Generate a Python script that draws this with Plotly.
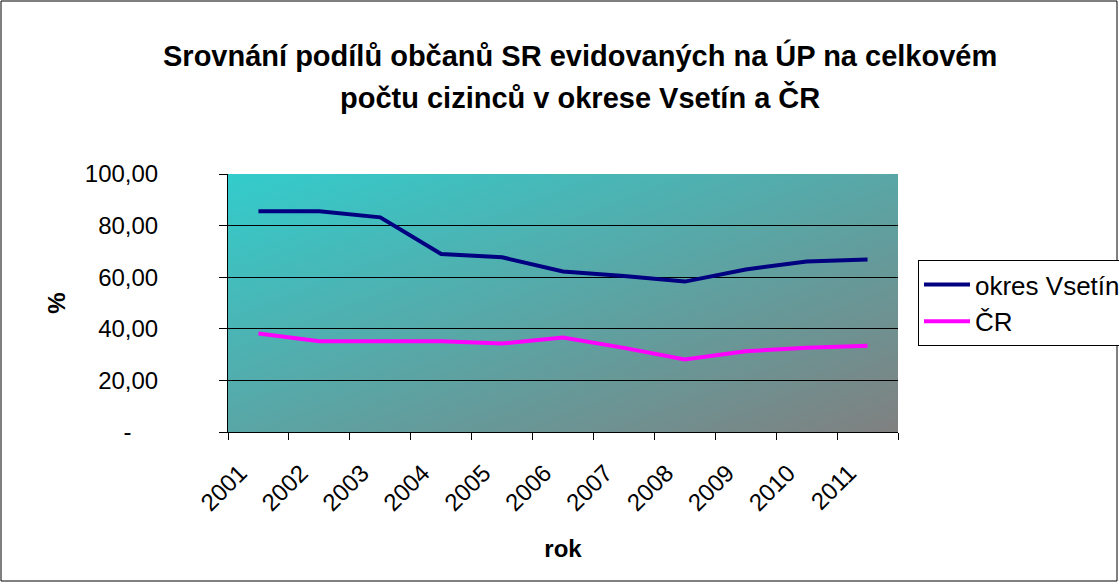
import plotly.graph_objects as go

years = ["2001", "2002", "2003", "2004", "2005", "2006", "2007", "2008", "2009", "2010", "2011"]
vsetin = [85.6, 85.6, 83.2, 69.0, 67.7, 62.2, 60.5, 58.3, 63.0, 66.1, 66.9]
cr = [38.2, 35.2, 35.2, 35.2, 34.3, 36.6, 32.6, 28.1, 31.3, 32.7, 33.4]
ytick_vals = [0, 20, 40, 60, 80, 100]
ytick_text = ["-\u00a0\u00a0\u00a0\u00a0", "20,00", "40,00", "60,00", "80,00", "100,00"]
title_lines = ["Srovnání podílů občanů SR evidovaných na ÚP na celkovém",
               "počtu cizinců v okrese Vsetín a ČR"]

W, H = 1119, 583
L, R, T, B = 228, 221, 174, 151
pw, ph = W - L - R, H - T - B

def px(x):
    return (x - L) / pw

def py(y):
    return (H - B - y) / ph

FONT = "Arial, Liberation Sans, sans-serif"

fig = go.Figure()
fig.add_trace(go.Scatter(x=years, y=vsetin, mode="lines", name="okres Vsetín",
                         line=dict(color="#000080", width=4)))
fig.add_trace(go.Scatter(x=years, y=cr, mode="lines", name="ČR",
                         line=dict(color="#FF00FF", width=4)))

svg = ("data:image/svg+xml;utf8,<svg xmlns='http://www.w3.org/2000/svg' width='670' height='258' preserveAspectRatio='none'>"
       "<defs><linearGradient id='g' x1='0' y1='0' x2='1' y2='1'>"
       "<stop offset='0' stop-color='%2333CCCC'/><stop offset='1' stop-color='%23808080'/>"
       "</linearGradient></defs><rect width='670' height='258' fill='url(%23g)'/></svg>")

annotations = [
    dict(text="<b>%s</b>" % title_lines[0], x=px(580), y=py(55), xref="paper", yref="paper",
         xanchor="center", yanchor="middle", showarrow=False, font=dict(size=29)),
    dict(text="<b>%s</b>" % title_lines[1], x=px(580), y=py(98), xref="paper", yref="paper",
         xanchor="center", yanchor="middle", showarrow=False, font=dict(size=29)),
]

fig.update_layout(
    width=W, height=H,
    margin=dict(l=L, r=R, t=T, b=B, autoexpand=False),
    paper_bgcolor="white", plot_bgcolor="rgba(0,0,0,0)",
    font=dict(family=FONT, size=24, color="black"),
    annotations=annotations,
    images=[dict(source=svg, xref="paper", yref="paper", x=0, y=1, sizex=1, sizey=1,
                 sizing="stretch", layer="below", xanchor="left", yanchor="top")],
    xaxis=dict(type="category", range=[-0.5, 10.5], tickson="boundaries", ticks="outside",
               ticklen=7, tickcolor="black", tickangle=-45, showgrid=False, automargin=False,
               tickvals=years, ticktext=[y + "\u00a0\u00a0" for y in years],
               showline=True, linecolor="black", linewidth=1, tickfont=dict(size=24),
               ticklabelstandoff=7, ticklabelshift=-9,
               title=dict(text="<b>rok</b>", font=dict(size=24), standoff=25)),
    yaxis=dict(range=[0, 100], tickvals=ytick_vals, ticktext=ytick_text, ticks="outside",
               ticklen=8, tickcolor="black", showgrid=True, gridcolor="black", gridwidth=1,
               showline=True, linecolor="black", linewidth=1, zeroline=False, automargin=False,
               ticklabelstandoff=56,
               title=dict(text="<b>%</b>", font=dict(size=24), standoff=12)),
    legend=dict(x=px(918), y=py(260), xanchor="left", yanchor="top",
                bgcolor="white", bordercolor="black", borderwidth=1,
                font=dict(size=26), itemwidth=46),
    showlegend=True,
    shapes=[dict(type="rect", xref="paper", yref="paper",
                 x0=px(1), x1=px(W - 2), y0=py(H - 2), y1=py(1),
                 line=dict(color="black", width=1), fillcolor="rgba(0,0,0,0)", layer="below")],
)

fig.write_html("out.html", post_script="document.body.style.margin='0';",
               config={"displayModeBar": False})
